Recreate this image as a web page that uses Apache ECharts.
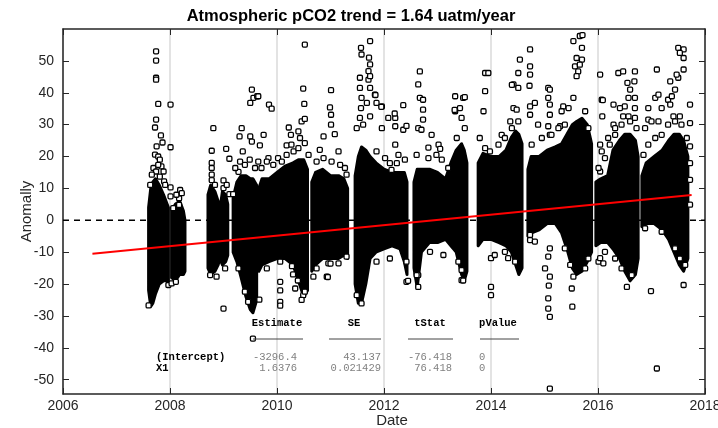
<!DOCTYPE html>
<html>
<head>
<meta charset="utf-8">
<title>Atmospheric pCO2 trend</title>
<script src="https://cdn.jsdelivr.net/npm/echarts@6/dist/echarts.min.js"></script>
<style>
  html, body { margin: 0; padding: 0; background: #fff; }
  #chart { width: 718px; height: 428px; }
</style>
</head>
<body>
<div id="chart"></div>
<script>
// axis ticks
const xTicks = [2006, 2008, 2010, 2012, 2014, 2016, 2018];
const yTicks = [-50, -40, -30, -20, -10, 0, 10, 20, 30, 40, 50];

// dense part of each deployment: [year, low, high]
const core07a = [[2007.60, -22, 4], [2007.64, -27, 10], [2007.68, -26, 12], [2007.73, -23, 13], [2007.80, -20, 11], [2007.88, -19, 8], [2007.97, -19, 4]];
const core08a = [[2008.03, -18, 3], [2008.10, -19, 5], [2008.18, -17, 6], [2008.25, -17, 3], [2008.28, -16, 0]];
const core08b = [[2008.71, -15, 8], [2008.76, -17, 11], [2008.84, -16, 9], [2008.90, -14, 6], [2008.93, -12, 3], [2008.98, -14, 9], [2009.04, -13, 8], [2009.08, -11, 5]];
const core09 = [[2009.18, -10, 7], [2009.25, -13, 12], [2009.33, -18, 14], [2009.42, -24, 14], [2009.50, -28, 13], [2009.55, -29, 13], [2009.62, -25, 11]];
const core10a = [[2009.66, -16, 10], [2009.72, -14, 13], [2009.85, -13, 13], [2010.00, -12, 15], [2010.15, -12, 17], [2010.30, -14, 18], [2010.40, -19, 19], [2010.50, -24, 19], [2010.57, -22, 16]];
const core10b = [[2010.65, -16, 12], [2010.72, -14, 15], [2010.85, -12, 16], [2011.00, -12, 14], [2011.15, -12, 14], [2011.25, -11, 13], [2011.32, -12, 10]];
const core11 = [[2011.46, -20, 14], [2011.52, -26, 20], [2011.58, -26, 23], [2011.66, -20, 22], [2011.74, -12, 20], [2011.85, -10, 18], [2012.00, -9, 16], [2012.15, -8, 15], [2012.30, -9, 15], [2012.38, -13, 15], [2012.43, -17, 12]];
const core12 = [[2012.56, -15, 12], [2012.62, -21, 16], [2012.70, -10, 16], [2012.85, -7, 16], [2013.00, -7, 15], [2013.15, -6, 13], [2013.25, -8, 18], [2013.35, -10, 22], [2013.45, -17, 24], [2013.50, -19, 22], [2013.55, -16, 18]];
const core13 = [[2013.76, -8, 18], [2013.85, -6, 21], [2014.00, -6, 20], [2014.15, -7, 20], [2014.28, -8, 22], [2014.38, -10, 26], [2014.46, -14, 28], [2014.52, -17, 27], [2014.58, -15, 24]];
const core14 = [[2014.69, -5, 16], [2014.75, -4, 20], [2014.90, -3, 20], [2015.05, -1, 22], [2015.20, -1, 23], [2015.32, -4, 24], [2015.42, -9, 27], [2015.52, -15, 30], [2015.60, -17, 31], [2015.70, -16, 32], [2015.80, -13, 30], [2015.88, -10, 24]];
const core16a = [[2015.96, -8, 12], [2016.05, -7, 13], [2016.18, -7, 14], [2016.28, -9, 22], [2016.40, -12, 25], [2016.50, -16, 27], [2016.60, -19, 27], [2016.70, -17, 25], [2016.75, -12, 20]];
const core16b = [[2016.82, -2, 14], [2016.90, -1, 18], [2017.05, -1, 20], [2017.20, -3, 22], [2017.32, -6, 25], [2017.42, -10, 27], [2017.52, -14, 27], [2017.60, -16, 25], [2017.68, -12, 20]];

// scattered points outside the dense parts: [year, anomaly]
const pts0709 = [[2007.74, 53.0], [2007.74, 50.1], [2007.74, 44.7], [2007.74, 44.1], [2007.78, 36.5], [2008.01, 36.3], [2007.74, 31.6], [2007.72, 29.1], [2007.83, 26.6], [2007.86, 24.4], [2007.75, 23.2], [2008.01, 22.9], [2007.72, 20.6], [2007.78, 20.0], [2007.81, 19.0], [2007.69, 16.4], [2007.84, 16.9], [2007.74, 15.3], [2007.89, 12.2], [2008.01, 10.3], [2008.19, 9.5], [2008.01, 7.5], [2008.17, 6.9], [2008.17, 4.8], [2007.97, -20.3], [2008.03, -19.8], [2008.11, -19.3], [2007.60, -26.7],
  [2008.81, 28.9], [2008.78, 21.8], [2008.78, 18.0], [2008.78, 12.6], [2009.05, 22.4], [2009.11, 19.3], [2009.00, 12.5], [2009.11, 8.2], [2009.00, -27.7], [2009.18, 8.2]];
const pts0911 = [[2009.34, 28.9], [2009.30, 26.3], [2009.50, 26.3], [2009.53, 24.7], [2009.36, 21.6], [2009.53, 41.0], [2009.56, 38.4], [2009.50, 36.8], [2009.63, 38.9], [2009.55, -37.1], [2009.28, 15.2],
  [2010.52, 55.1], [2010.49, 41.3], [2011.01, 40.8], [2010.51, 36.5], [2009.85, 36.3], [2009.90, 35.0], [2009.75, 26.8], [2009.68, 23.5], [2009.65, 38.9], [2010.99, 35.4], [2011.01, 33.1], [2011.01, 30.0], [2011.08, 27.0], [2010.87, 26.3], [2010.22, 29.1], [2010.26, 26.8], [2010.18, 23.5], [2010.27, 23.7], [2010.40, 27.9], [2010.43, 25.8], [2010.46, 31.0], [2010.52, 31.8], [2009.84, 19.5], [2010.02, 19.5], [2010.80, 22.1], [2011.15, 21.6], [2011.30, 14.3],
  [2011.30, -11.4], [2010.96, -13.5], [2010.93, -17.7], [2010.68, -17.7], [2010.28, -14.4], [2010.30, -17.0], [2010.06, -13.0], [2010.06, -19.3], [2010.06, -22.0], [2010.06, -25.6], [2010.06, -26.8], [2010.49, -23.5], [2010.46, -25.0], [2009.67, -24.9], [2010.39, -18.9], [2011.00, -13.6], [2010.95, -17.8]];
const pts1113 = [[2011.74, 56.2], [2011.57, 54.1], [2011.58, 52.0], [2011.72, 51.0], [2011.74, 48.9], [2011.71, 46.8], [2011.55, 44.7], [2011.71, 44.1], [2011.55, 41.5], [2011.74, 41.5], [2011.58, 38.4], [2011.68, 36.8], [2011.57, 35.2], [2011.55, 32.1], [2011.61, 30.0], [2011.58, -26.1],
  [2011.74, 45.2], [2011.83, 39.4], [2011.86, 36.8], [2011.96, 35.7], [2011.74, 32.6], [2011.96, 28.9], [2012.08, 32.1], [2012.21, 32.1], [2012.36, 36.1], [2012.21, 29.5], [2012.21, 23.7], [2012.36, 28.4], [2012.67, 46.7], [2012.64, 42.6], [2012.67, 38.4], [2012.73, 37.8], [2012.73, 34.7], [2012.64, 28.9], [2012.70, 28.4], [2012.89, 26.8], [2013.02, 23.7], [2013.05, 22.4], [2012.83, 22.8], [2012.98, 20.5], [2012.73, 31.6], [2013.33, 38.9], [2013.48, 38.4], [2013.42, 35.2], [2013.45, 32.1], [2013.33, 34.2], [2013.89, 46.2], [2013.86, 34.2], [2012.11, 17.9], [2012.24, 17.9], [2012.14, 15.8], [2011.84, 39.3], [2011.95, 35.6], [2012.20, 33.5], [2012.42, 29.6], [2013.32, 34.6], [2013.51, 38.6],
  [2012.42, -19.3], [2012.64, -20.9], [2012.64, -17.2], [2013.45, -18.8], [2013.45, -15.6], [2012.42, -13.0], [2013.48, -18.9], [2012.45, -19.0]];
const pts1416 = [[2015.54, 56.2], [2015.66, 57.8], [2015.71, 58.1], [2015.70, 54.1], [2015.60, 50.9], [2015.70, 50.4], [2015.57, 48.3], [2015.66, 48.8], [2015.63, 46.7], [2015.60, 45.2], [2014.54, 50.4], [2014.51, 46.2], [2014.73, 53.6], [2014.73, 48.3], [2014.73, 45.7], [2014.42, 42.6], [2014.51, 41.5], [2014.42, 35.2], [2014.48, 34.7], [2014.36, 31.0], [2014.82, 36.8], [2014.73, 35.7], [2014.73, 33.1], [2015.07, 41.5], [2015.10, 41.0], [2015.07, 38.4], [2015.10, 36.3], [2015.10, 33.1], [2015.07, 29.5], [2015.35, 35.7], [2015.32, 34.2], [2015.29, 29.5], [2015.10, 26.8], [2014.20, 26.8], [2013.95, 46.2], [2013.89, 40.5], [2014.88, 30.0], [2014.39, 42.5], [2014.72, 42.2],
  [2015.10, -8.8], [2015.07, -11.4], [2015.10, -17.7], [2015.01, -15.1], [2015.07, -24.5], [2015.07, -27.7], [2015.10, -30.3], [2015.08, -20.5], [2014.00, -20.9], [2014.00, -23.5], [2014.00, -11.9], [2014.32, -11.9], [2014.73, -6.2], [2014.73, -4.6], [2015.54, -17.7], [2015.51, -21.4], [2015.52, -27.1], [2015.10, -52.8]];
const pts1618 = [[2016.04, 45.7], [2016.07, 37.8], [2016.08, 32.6], [2016.04, 23.7], [2016.07, 21.6], [2016.04, 15.3], [2016.01, -13.0], [2016.38, 46.2], [2016.47, 46.7], [2016.69, 46.7], [2016.68, 43.6], [2016.55, 43.1], [2016.60, 41.0], [2016.57, 38.4], [2016.69, 38.4], [2016.50, 35.7], [2016.29, 36.3], [2016.41, 35.2], [2016.69, 35.2], [2016.47, 32.6], [2016.57, 32.6], [2016.69, 32.1], [2016.29, 30.0], [2016.19, 25.8], [2016.32, 26.8], [2017.10, 47.3], [2017.07, 38.4], [2017.13, 39.4], [2016.94, 35.2], [2017.19, 35.2], [2017.31, 37.8], [2017.38, 38.9], [2017.44, 41.0], [2017.50, 44.7], [2017.50, 54.1], [2017.60, 53.6], [2017.60, 50.9], [2017.53, 52.5], [2017.47, 45.7], [2017.60, 47.3], [2017.35, 43.6], [2017.35, 36.3], [2017.41, 32.6], [2017.53, 32.6], [2017.72, 36.3], [2017.72, 30.5], [2017.72, 23.2], [2017.72, 17.9], [2016.94, 31.6], [2017.00, 31.0], [2017.13, 31.0], [2016.88, 28.9], [2016.09, 37.7], [2017.72, 12.7], [2017.72, 4.9],
  [2016.04, -11.9], [2016.10, -13.5], [2016.54, -20.9], [2016.99, -22.2], [2017.60, -20.3], [2017.10, -46.5]];

// points hugging the edges of the dense parts
const fringe0709 = [[2007.66, 14.3], [2007.81, 13.7], [2007.91, 11.1], [2007.63, 11.1], [2007.78, 17.4], [2007.88, 15.3], [2008.12, 8.0], [2008.22, 8.5], [2008.06, 3.8],
  [2008.78, 16.4], [2008.78, 14.3], [2008.84, 11.1], [2009.00, 10.1], [2009.06, 11.1], [2008.75, -17.2], [2008.87, -17.7], [2009.03, -15.1],
  [2009.22, 16.4], [2009.31, 18.4], [2009.40, 17.4], [2009.49, 19.0], [2009.59, 16.4], [2009.65, 18.4], [2009.28, -15.1], [2009.40, -22.4], [2009.46, -25.6]];
const fringe0913 = [[2009.71, 16.4], [2009.81, 18.4], [2009.93, 17.4], [2010.09, 18.4], [2010.18, 20.5], [2010.31, 21.6], [2010.40, 22.6], [2010.52, 24.2], [2010.59, 20.5], [2010.74, 18.4], [2010.87, 19.5], [2011.02, 18.4], [2011.18, 17.4], [2011.27, 16.4], [2009.81, -15.1], [2010.34, -21.4], [2010.52, -22.4], [2010.74, -15.1], [2011.15, -13.5], [2011.49, 28.9], [2011.49, -23.5],
  [2011.86, 21.6], [2012.02, 19.5], [2012.27, 20.5], [2012.39, 19.0], [2012.61, 20.5], [2012.83, 19.5], [2013.08, 19.0], [2013.20, 16.4], [2013.36, 25.8], [2013.51, 28.9], [2011.86, -13.0], [2012.11, -12.0], [2012.86, -9.9], [2013.11, -10.9], [2013.39, -13.0], [2012.61, -17.2], [2013.79, 25.8], [2013.89, 22.6]];
const fringe1418 = [[2013.98, 21.6], [2014.14, 23.7], [2014.26, 25.8], [2014.39, 28.9], [2014.51, 31.0], [2014.76, 23.7], [2014.95, 25.8], [2015.13, 26.8], [2015.26, 28.9], [2015.38, 30.0], [2015.45, 35.2], [2015.54, 38.4], [2015.76, 34.2], [2015.82, 28.9], [2014.07, -10.9], [2014.26, -9.9], [2014.45, -13.0], [2014.82, -6.7], [2015.38, -8.8], [2015.48, -14.0], [2015.76, -15.1], [2015.82, -12.0],
  [2016.01, 16.4], [2016.13, 19.5], [2016.22, 23.7], [2016.32, 28.9], [2016.44, 30.0], [2016.60, 31.0], [2016.72, 28.9], [2016.85, 20.5], [2016.94, 23.7], [2017.07, 25.8], [2017.19, 26.8], [2017.31, 30.0], [2017.44, 31.0], [2017.56, 30.0], [2017.66, 25.8], [2016.13, -9.9], [2016.32, -12.0], [2016.44, -15.1], [2016.63, -17.2], [2016.88, -2.5], [2017.19, -3.6], [2017.44, -8.8], [2017.53, -12.0], [2017.63, -14.0]];

// fitted trend end points and zero reference
const trendLine = [[2006.55, -10.5], [2017.75, 7.9]];
const zeroLine = [[2006, 0], [2018, 0]];

// regression table
const colHeads = ['Estimate', 'SE', 'tStat', 'pValue'];
const rowNames = ['(Intercept)', 'X1'];
const estimateCol = ['-3296.4', '1.6376'];
const seCol = ['43.137', '0.021429'];
const tStatCol = ['-76.418', '76.418'];
const pValueCol = ['0', '0'];

const coreSets = [core07a, core08a, core08b, core09, core10a, core10b, core11, core12, core13, core14, core16a, core16b];
const scatterPts = [].concat(pts0709, pts0911, pts1113, pts1416, pts1618, fringe0709, fringe0913, fringe1418);

const axisColor = '#262626';
const sans = '"Liberation Sans", Arial, sans-serif';
const mono = '"Liberation Mono", "Courier New", monospace';

function renderCore(params, api) {
  const seg = coreSets[api.value(2)];
  const upper = seg.map(r => api.coord([r[0], r[2]]));
  const lower = seg.slice().reverse().map(r => api.coord([r[0], r[1]]));
  return {
    type: 'polygon',
    shape: { points: upper.concat(lower) },
    style: { fill: '#000', stroke: '#000', lineWidth: 3, lineJoin: 'round' }
  };
}

function tableGraphics() {
  const out = [];
  const headX = [277, 354, 430, 498];
  const lineSpans = [[253, 303], [329, 381], [408, 453], [480, 519]];
  colHeads.forEach((h, i) => {
    out.push({ type: 'text', x: headX[i], y: 323, z: 100,
      style: { text: h, font: 'bold 10.5px ' + mono, fill: '#000', align: 'center', verticalAlign: 'middle' } });
    out.push({ type: 'line', z: 100,
      shape: { x1: lineSpans[i][0], y1: 339, x2: lineSpans[i][1], y2: 339 },
      style: { stroke: '#444', lineWidth: 1 } });
  });
  const rowY = [357, 368];
  rowNames.forEach((n, r) => {
    out.push({ type: 'text', x: 156, y: rowY[r], z: 100,
      style: { text: n, font: 'bold 10.5px ' + mono, fill: '#000', align: 'left', verticalAlign: 'middle' } });
    [[estimateCol, 297], [seCol, 381], [tStatCol, 452]].forEach(([col, xr]) => {
      out.push({ type: 'text', x: xr, y: rowY[r], z: 100,
        style: { text: col[r], font: '10.5px ' + mono, fill: '#808080', align: 'right', verticalAlign: 'middle' } });
    });
    out.push({ type: 'text', x: 479, y: rowY[r], z: 100,
      style: { text: pValueCol[r], font: '10.5px ' + mono, fill: '#808080', align: 'left', verticalAlign: 'middle' } });
  });
  out.push({ type: 'text', x: 351, y: 16, z: 100,
    style: { text: 'Atmospheric pCO2 trend = 1.64 uatm/year', font: 'bold 16.5px ' + sans, fill: '#000', align: 'center', verticalAlign: 'middle' } });
  return out;
}

const baseX = {
  type: 'value', min: 2006, max: 2018, interval: 2,
  axisLine: { show: true, onZero: false, lineStyle: { color: axisColor, width: 1.5 } },
  axisTick: { show: true, inside: true, length: 6, lineStyle: { color: axisColor, width: 1 } }
};
const baseY = {
  type: 'value', min: -54.5, max: 60,
  axisLine: { show: true, onZero: false, lineStyle: { color: axisColor, width: 1.5 } },
  axisTick: { show: true, inside: true, length: 6, customValues: yTicks, lineStyle: { color: axisColor, width: 1 } },
  splitLine: { show: false }
};

const option = {
  animation: false,
  backgroundColor: '#fff',
  grid: { left: 63, right: 13, top: 29, bottom: 34, containLabel: false, outerBoundsMode: 'none' },
  xAxis: [
    Object.assign({}, baseX, {
      position: 'bottom',
      name: 'Date', nameLocation: 'middle', nameGap: 19, nameMoveOverlap: false,
      nameTextStyle: { fontFamily: sans, fontSize: 15, color: axisColor, padding: [0, 0, 0, 16] },
      axisLabel: { fontFamily: sans, fontSize: 14, color: axisColor, margin: 5, formatter: v => String(v), customValues: xTicks },
      splitLine: { show: true, lineStyle: { color: '#dadada', width: 1.5 } }
    }),
    Object.assign({}, baseX, { position: 'top', axisLabel: { show: false }, splitLine: { show: false } })
  ],
  yAxis: [
    Object.assign({}, baseY, {
      position: 'left',
      name: 'Anomally', nameLocation: 'middle', nameGap: 29, nameMoveOverlap: false,
      nameTextStyle: { fontFamily: sans, fontSize: 15, color: axisColor },
      axisLabel: { fontFamily: sans, fontSize: 14, color: axisColor, margin: 9, customValues: yTicks }
    }),
    Object.assign({}, baseY, { position: 'right', axisLabel: { show: false } })
  ],
  series: [
    {
      type: 'line', data: zeroLine, symbol: 'none', silent: true, z: 1,
      lineStyle: { color: '#000', width: 1.3, type: [6, 5] }
    },
    {
      type: 'custom', renderItem: renderCore, silent: true, z: 2,
      data: coreSets.map((s, i) => [s[0][0], s[0][1], i]),
      encode: { x: 0, y: 1 }
    },
    {
      type: 'scatter', data: scatterPts, symbol: 'roundRect', symbolSize: 5, silent: true, z: 3,
      itemStyle: { color: '#fff', borderColor: '#000', borderWidth: 1.3, opacity: 1 }
    },
    {
      type: 'line', data: trendLine, symbol: 'none', silent: true, z: 4,
      lineStyle: { color: '#ff0000', width: 2 }
    }
  ],
  graphic: tableGraphics()
};

const myChart = echarts.init(document.getElementById('chart'));
myChart.setOption(option);
</script>
</body>
</html>
